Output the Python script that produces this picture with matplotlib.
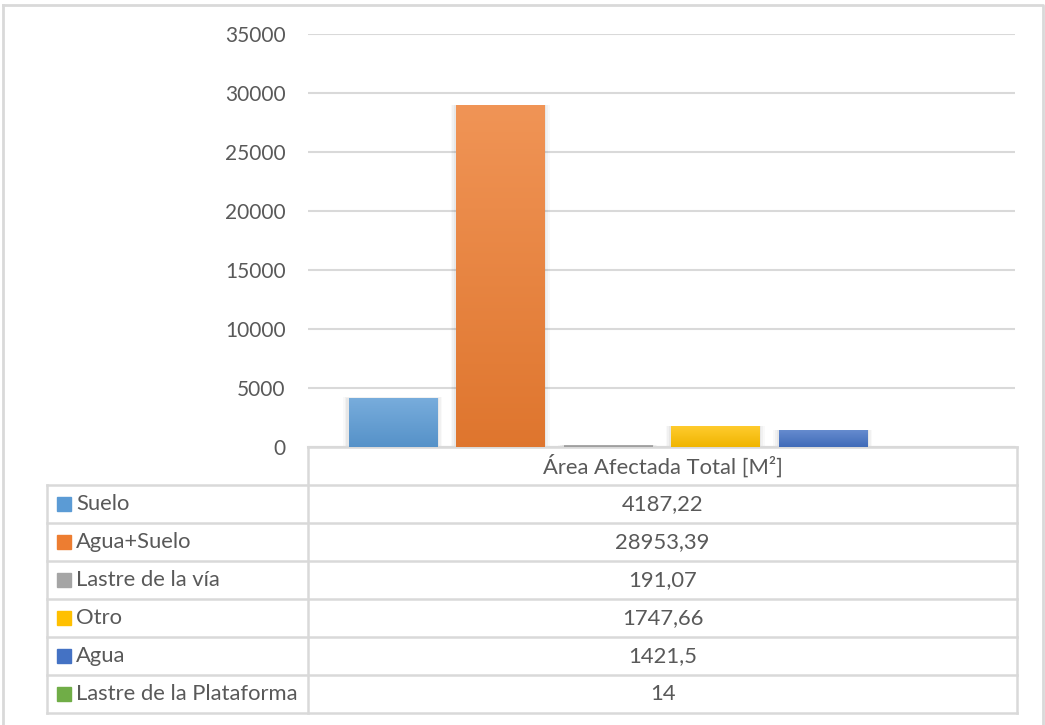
import numpy as np
import matplotlib
matplotlib.use('Agg')
import matplotlib.pyplot as plt
from matplotlib.colors import to_rgb, LinearSegmentedColormap
from matplotlib.patches import Rectangle

series = ['Suelo', 'Agua+Suelo', 'Lastre de la vía', 'Otro', 'Agua', 'Lastre de la Plataforma']
values = [4187.22, 28953.39, 191.07, 1747.66, 1421.5, 14]
colors = ['#5B9BD5', '#ED7D31', '#A5A5A5', '#FFC000', '#4472C4', '#70AD47']
category = 'Área Afectada Total [M²]'
yticks = [0, 5000, 10000, 15000, 20000, 25000, 30000, 35000]

plt.rcParams['font.family'] = ['Lato', 'DejaVu Sans']
txt = '#595959'
grid = '#d9d9d9'

W, H = 1045, 725
fig = plt.figure(figsize=(W / 100, H / 100), dpi=100)


def frac(x0, y0, x1, y1):
    # pixel box (top-left origin) -> figure fraction
    return [x0 / W, 1 - y1 / H, (x1 - x0) / W, (y1 - y0) / H]


def mix(c, other, t):
    c = np.array(to_rgb(c))
    return tuple(c + (np.array(other) - c) * t)


# main bar axes
ax = fig.add_axes(frac(308, 34, 1015, 447))
n = len(values)
x = np.arange(n)
ax.set_yticks(yticks)
ax.set_yticklabels([str(t) for t in yticks], fontsize=15, color=txt)
ax.tick_params(axis='y', length=0, pad=16)
ax.set_xticks([])
for s in ['top', 'right', 'left']:
    ax.spines[s].set_visible(False)
ax.spines['bottom'].set_color(grid)
ax.spines['bottom'].set_linewidth(1.5)
ax.yaxis.grid(True, color=grid, linewidth=1.5)
ax.set_axisbelow(True)

bw = 0.82
for xi, v, c in zip(x, values, colors):
    # soft shadow
    for k, a in [(0.05, 0.025), (0.035, 0.03), (0.02, 0.04)]:
        ax.add_patch(Rectangle((xi - bw / 2 - k, 0), bw + 2 * k, v + k * 300,
                               color='k', alpha=a, lw=0, zorder=2))
    bar = ax.bar(xi, v, width=bw, color=c, zorder=3)[0]
    cmap = LinearSegmentedColormap.from_list('g', [mix(c, (0, 0, 0), 0.06), mix(c, (1, 1, 1), 0.18)])
    grad = np.linspace(0, 1, 256).reshape(-1, 1)
    im = ax.imshow(grad, extent=[xi - bw / 2, xi + bw / 2, 0, max(v, 1)], origin='lower',
                   aspect='auto', cmap=cmap, zorder=4)
    im.set_clip_path(bar)
ax.set_xlim(-0.788, n - 1 + 0.788)
ax.set_ylim(0, 35000)

# overlay axes in pixel coordinates for frame and data table
ov = fig.add_axes([0, 0, 1, 1], zorder=-1)
ov.set_xlim(0, W)
ov.set_ylim(H, 0)
ov.axis('off')
ov.patch.set_alpha(0)

lw = 1.8
# outer chart frame
ov.plot([3, 1043, 1043], [5, 5, 725], color=grid, lw=2)
ov.plot([3, 3], [5, 725], color=grid, lw=2)

x_left, x_split, x_right = 47, 308, 1017
y_head, y_first, row_h = 447, 485, 38
y_bottom = y_first + row_h * n

ov.plot([x_split, x_split], [y_head, y_bottom], color=grid, lw=lw)
ov.plot([x_right, x_right], [y_head, y_bottom], color=grid, lw=lw)
ov.plot([x_split, x_right], [y_head, y_head], color=grid, lw=lw)
ov.plot([x_left, x_left], [y_first, y_bottom], color=grid, lw=lw)
for i in range(n + 1):
    yy = y_first + i * row_h
    ov.plot([x_left, x_right], [yy, yy], color=grid, lw=lw)

fs = 15.8
ov.text((x_split + x_right) / 2, (y_head + y_first) / 2, category,
        ha='center', va='center', fontsize=fs, color=txt)
for i, (s, v, c) in enumerate(zip(series, values, colors)):
    yc = y_first + row_h * (i + 0.5)
    ov.add_patch(Rectangle((57, yc - 7), 14, 14, color=c))
    ov.text(76, yc, s, ha='left', va='center', fontsize=fs, color=txt)
    lab = f'{v:.2f}'.rstrip('0').rstrip('.').replace('.', ',')
    ov.text((x_split + x_right) / 2, yc, lab, ha='center', va='center', fontsize=fs, color=txt)

fig.savefig('out.png', dpi=100)
